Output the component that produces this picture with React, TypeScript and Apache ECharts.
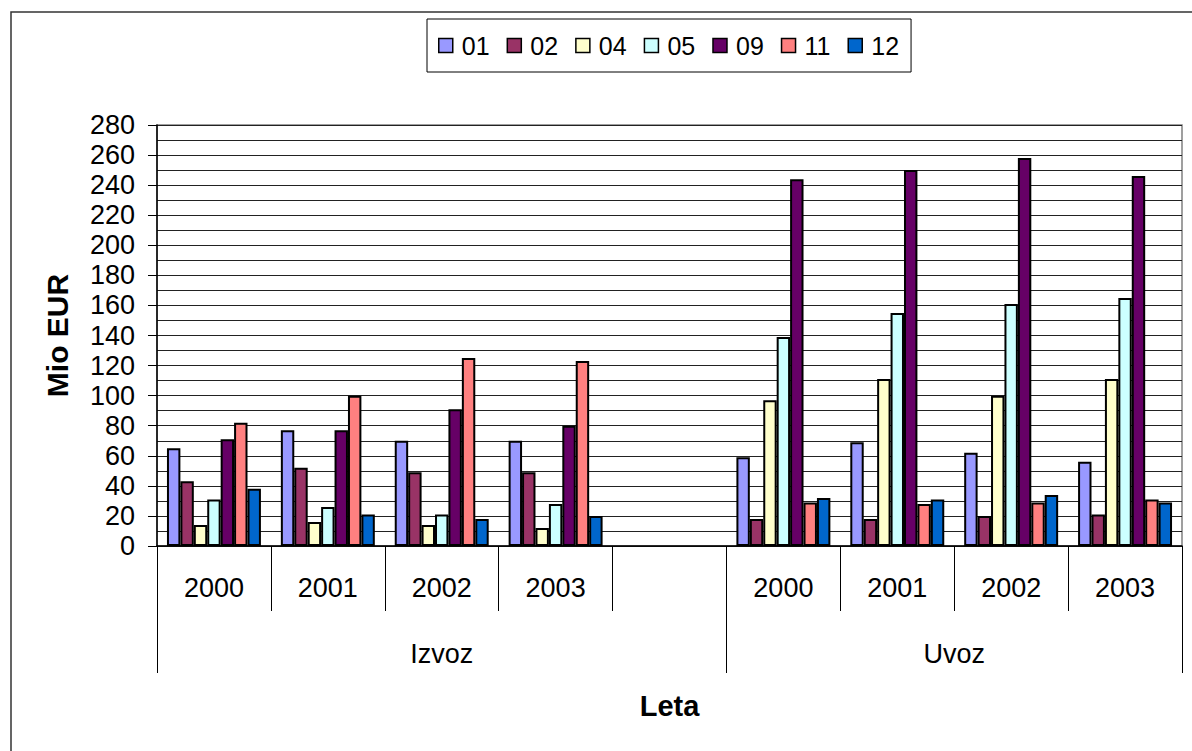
import React, { useEffect, useRef } from "react";
import * as echarts from "echarts";

const categories = ["2000", "2001", "2002", "2003", "", "2000", "2001", "2002", "2003"];
const groupNames = ["Izvoz", "Uvoz"];
const groupSpans = [5, 4];
const seriesNames = ["01", "02", "04", "05", "09", "11", "12"];
const seriesColors = ["#9999FF", "#993366", "#FFFFCC", "#CCFFFF", "#660066", "#FF8080", "#0066CC"];
const s01 = [65, 77, 70, 70, null, 59, 69, 62, 56];
const s02 = [43, 52, 49, 49, null, 18, 18, 20, 21];
const s04 = [14, 16, 14, 12, null, 97, 111, 100, 111];
const s05 = [31, 26, 21, 28, null, 139, 155, 161, 165];
const s09 = [71, 77, 91, 80, null, 244, 250, 258, 246];
const s11 = [82, 100, 125, 123, null, 29, 28, 29, 31];
const s12 = [38, 21, 18, 20, null, 32, 31, 34, 29];
const seriesValues = [s01, s02, s04, s05, s09, s11, s12];
const yTickLabels = [0, 20, 40, 60, 80, 100, 120, 140, 160, 180, 200, 220, 240, 260, 280];

const FONT = "Arial, 'Liberation Sans', sans-serif";

export default function App() {
  const ref = useRef<HTMLDivElement>(null);
  useEffect(() => {
    if (!ref.current) return;
    const chart = echarts.init(ref.current, null, { renderer: "svg" });

    const groupBounds: number[] = [0];
    const groupCenters: number[] = [];
    let acc = 0;
    groupSpans.forEach((s) => {
      groupCenters.push(acc + s / 2);
      acc += s;
      groupBounds.push(acc);
    });

    chart.setOption({
      animation: false,
      backgroundColor: "#fff",
      textStyle: { fontFamily: FONT },
      graphic: [
        {
          type: "rect",
          shape: { x: 11, y: 12, width: 1200, height: 800 },
          style: { fill: "none", stroke: "#333", lineWidth: 1.5 },
          silent: true,
        },
      ],
      legend: {
        data: seriesNames,
        left: 427,
        top: 19,
        padding: [14, 12, 14, 11],
        borderColor: "#000",
        borderWidth: 1,
        itemWidth: 14,
        itemHeight: 14,
        itemGap: 17,
        icon: "rect",
        itemStyle: { borderColor: "#000", borderWidth: 1.5 },
        textStyle: { fontSize: 25, fontFamily: FONT, color: "#000", padding: [0, 0, 0, 4], lineHeight: 25 },
      },
      grid: {
        left: 157,
        right: 10,
        top: 125,
        bottom: 205,
        show: true,
        borderColor: "#808080",
        borderWidth: 1.5,
        containLabel: false,
      },
      xAxis: [
        {
          type: "category",
          data: categories,
          position: "bottom",
          name: "Leta",
          nameLocation: "middle",
          nameGap: 145,
          nameTextStyle: { fontSize: 29, fontWeight: "bold", color: "#000", fontFamily: FONT },
          axisLine: { show: true, lineStyle: { color: "#000", width: 1.5 } },
          axisTick: { show: true, interval: 0, length: 65, alignWithLabel: false, lineStyle: { color: "#000", width: 1 } },
          axisLabel: { interval: 0, margin: 28, fontSize: 27, color: "#000", fontFamily: FONT },
          splitLine: { show: false },
        },
        {
          type: "value",
          min: 0,
          max: categories.length,
          position: "bottom",
          axisLine: { show: false },
          splitLine: { show: false },
          axisTick: {
            show: true,
            length: 127,
            customValues: groupBounds,
            lineStyle: { color: "#000", width: 1 },
          },
          axisLabel: {
            show: true,
            margin: 94,
            fontSize: 27,
            color: "#000",
            fontFamily: FONT,
            customValues: groupCenters,
            formatter: (v: number) => {
              const i = groupCenters.findIndex((c) => Math.abs(c - v) < 1e-6);
              return i >= 0 ? groupNames[i] : "";
            },
          },
        },
      ],
      yAxis: {
        type: "value",
        min: yTickLabels[0],
        max: yTickLabels[yTickLabels.length - 1],
        interval: 20,
        name: "Mio EUR",
        nameLocation: "middle",
        nameRotate: 90,
        nameGap: 85,
        nameTextStyle: { fontSize: 30, fontWeight: "bold", color: "#000", fontFamily: FONT },
        axisLine: { show: true, lineStyle: { color: "#000", width: 1.5 } },
        axisTick: { show: true, length: 9, lineStyle: { color: "#000", width: 1 } },
        axisLabel: { margin: 22, fontSize: 27, color: "#000", fontFamily: FONT },
        splitLine: { show: true, lineStyle: { color: "#222", width: 1 } },
        minorTick: { show: false, splitNumber: 2 },
        minorSplitLine: { show: true, lineStyle: { color: "#222", width: 1 } },
      },
      series: seriesNames.map((name, i) => ({
        name,
        type: "bar",
        xAxisIndex: 0,
        data: seriesValues[i],
        barGap: "0%",
        barCategoryGap: "17.5%",
        itemStyle: { color: seriesColors[i], borderColor: "#000", borderWidth: 2 },
      })),
    });
    return () => chart.dispose();
  }, []);
  return <div ref={ref} style={{ position: "fixed", left: 0, top: 0, width: 1192, height: 751 }} />;
}
